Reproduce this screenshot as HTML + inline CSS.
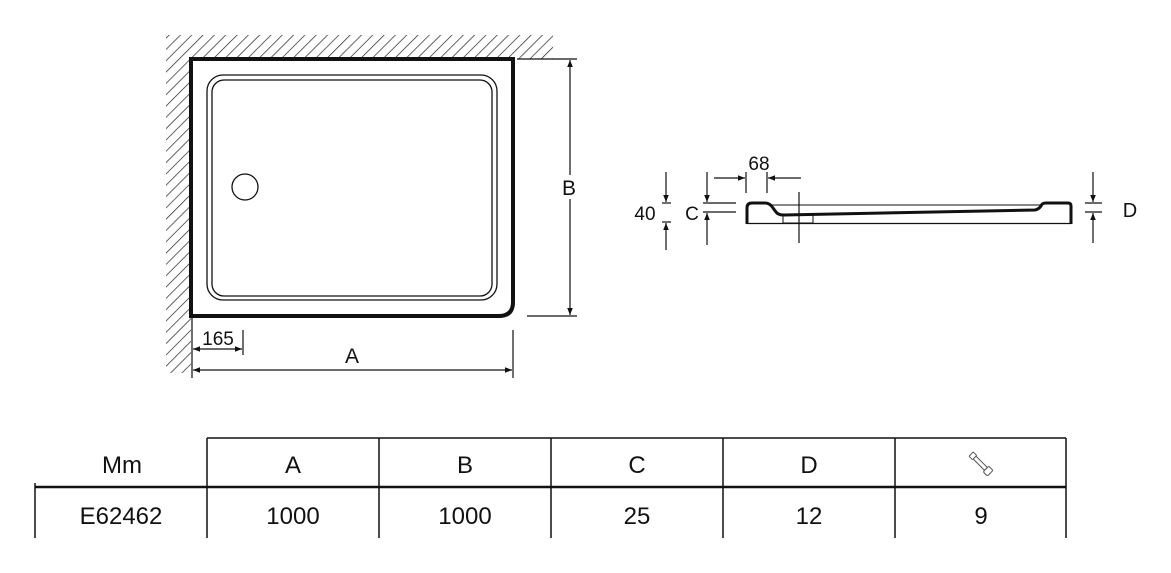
<!DOCTYPE html>
<html><head><meta charset="utf-8"><style>
html,body{margin:0;padding:0;background:#fff;}
svg{display:block;}
text{font-family:"Liberation Sans",sans-serif;fill:#111;}
</style></head><body>
<svg width="1171" height="573" viewBox="0 0 1171 573" xmlns="http://www.w3.org/2000/svg">
<defs>
<pattern id="h" width="8" height="8" patternUnits="userSpaceOnUse" patternTransform="rotate(45)">
<line x1="0" y1="0" x2="0" y2="8" stroke="#222" stroke-width="1.4"/>
</pattern>
<marker id="ar" viewBox="0 0 10 10" refX="10" refY="5" markerWidth="14" markerHeight="7" orient="auto-start-reverse" markerUnits="userSpaceOnUse">
<path d="M0,1 L10,5 L0,9 z" fill="#111"/>
</marker>
</defs>
<rect x="166" y="35" width="25" height="338" fill="url(#h)"/>
<rect x="191" y="35" width="362" height="24" fill="url(#h)"/>
<path d="M191,59 L513,59 L513,302 Q513,316 499,316 L191,316 Z" fill="#fff" stroke="#111" stroke-width="4"/>
<rect x="207" y="75" width="290" height="225" rx="16" fill="none" stroke="#111" stroke-width="1.3"/>
<rect x="212" y="80" width="280" height="216" rx="12" fill="none" stroke="#111" stroke-width="1.3"/>
<circle cx="245" cy="187" r="13" fill="none" stroke="#111" stroke-width="1.3"/>
<line x1="517" y1="59" x2="577" y2="59" stroke="#111" stroke-width="1.2"/>
<line x1="527" y1="316" x2="577" y2="316" stroke="#111" stroke-width="1.2"/>
<line x1="570" y1="60" x2="570" y2="315" stroke="#111" stroke-width="1.2" marker-start="url(#ar)" marker-end="url(#ar)"/>
<rect x="558" y="175" width="22" height="24" fill="#fff"/>
<text x="569" y="195" font-size="21" text-anchor="middle">B</text>
<line x1="192" y1="316" x2="192" y2="378" stroke="#111" stroke-width="1.2"/>
<line x1="513" y1="330" x2="513" y2="378" stroke="#111" stroke-width="1.2"/>
<line x1="193" y1="370" x2="512" y2="370" stroke="#111" stroke-width="1.2" marker-start="url(#ar)" marker-end="url(#ar)"/>
<text x="352" y="363" font-size="21" text-anchor="middle">A</text>
<line x1="243" y1="330" x2="243" y2="355" stroke="#111" stroke-width="1.2"/>
<line x1="193" y1="349" x2="242" y2="349" stroke="#111" stroke-width="1.2" marker-start="url(#ar)" marker-end="url(#ar)"/>
<text x="218" y="345" font-size="19" text-anchor="middle">165</text>
<path d="M747,224 L747,208 Q747,203 752,203 L765,203 Q770,203 773,208 L776,212 Q778,215 784,215 L1035,210 Q1039,209 1041,206 Q1042,203 1046,203 L1068,203 Q1071,203 1071,206 L1071,224" fill="none" stroke="#111" stroke-width="3"/>
<line x1="770" y1="205" x2="1042" y2="205" stroke="#111" stroke-width="1"/>
<line x1="747" y1="223.5" x2="1071" y2="223.5" stroke="#111" stroke-width="1.2"/>
<rect x="783" y="215" width="30" height="8" fill="none" stroke="#111" stroke-width="1"/>
<line x1="799" y1="192" x2="799" y2="243" stroke="#111" stroke-width="1.2"/>
<line x1="746" y1="172" x2="746" y2="193" stroke="#111" stroke-width="1.2"/>
<line x1="767" y1="172" x2="767" y2="193" stroke="#111" stroke-width="1.2"/>
<line x1="714" y1="178" x2="745" y2="178" stroke="#111" stroke-width="1.2" marker-end="url(#ar)"/>
<line x1="801" y1="178" x2="768" y2="178" stroke="#111" stroke-width="1.2" marker-end="url(#ar)"/>
<text x="759" y="170" font-size="19" text-anchor="middle">68</text>
<line x1="666" y1="172" x2="666" y2="202" stroke="#111" stroke-width="1.2" marker-end="url(#ar)"/>
<line x1="666" y1="250" x2="666" y2="223" stroke="#111" stroke-width="1.2" marker-end="url(#ar)"/>
<line x1="662" y1="203" x2="671" y2="203" stroke="#111" stroke-width="1.2"/>
<line x1="662" y1="222" x2="671" y2="222" stroke="#111" stroke-width="1.2"/>
<text x="645" y="220" font-size="19" text-anchor="middle">40</text>
<line x1="707" y1="172" x2="707" y2="202" stroke="#111" stroke-width="1.2" marker-end="url(#ar)"/>
<line x1="707" y1="245" x2="707" y2="213" stroke="#111" stroke-width="1.2" marker-end="url(#ar)"/>
<line x1="703" y1="203" x2="736" y2="203" stroke="#111" stroke-width="1.2"/>
<line x1="703" y1="212" x2="736" y2="212" stroke="#111" stroke-width="1.2"/>
<text x="692" y="220" font-size="19" text-anchor="middle">C</text>
<line x1="1093" y1="172" x2="1093" y2="202" stroke="#111" stroke-width="1.2" marker-end="url(#ar)"/>
<line x1="1093" y1="243" x2="1093" y2="213" stroke="#111" stroke-width="1.2" marker-end="url(#ar)"/>
<line x1="1085" y1="203" x2="1102" y2="203" stroke="#111" stroke-width="1.2"/>
<line x1="1085" y1="212" x2="1102" y2="212" stroke="#111" stroke-width="1.2"/>
<text x="1130" y="217" font-size="20" text-anchor="middle">D</text>
<line x1="207" y1="438" x2="1066" y2="438" stroke="#111" stroke-width="1.5"/>
<line x1="35" y1="487" x2="1066" y2="487" stroke="#111" stroke-width="2.5"/>
<line x1="35" y1="483" x2="35" y2="538" stroke="#111" stroke-width="1.5"/>
<g stroke="#111" stroke-width="1.5">
<line x1="207" y1="438" x2="207" y2="538"/>
<line x1="379" y1="438" x2="379" y2="538"/>
<line x1="551" y1="438" x2="551" y2="538"/>
<line x1="723" y1="438" x2="723" y2="538"/>
<line x1="895" y1="438" x2="895" y2="538"/>
<line x1="1066" y1="438" x2="1066" y2="538"/>
</g>
<g font-size="24" text-anchor="middle">
<text x="122" y="473">Mm</text>
<text x="293" y="473">A</text>
<text x="465" y="473">B</text>
<text x="637" y="473">C</text>
<text x="809" y="473">D</text>
<text x="121" y="524">E62462</text>
<text x="293" y="524">1000</text>
<text x="465" y="524">1000</text>
<text x="637" y="524">25</text>
<text x="809" y="524">12</text>
<text x="981" y="524">9</text>
</g>
<g transform="translate(981,464) rotate(45)" fill="#fff" stroke="#555" stroke-width="1">
<rect x="-14" y="-3" width="5" height="6" rx="1"/>
<rect x="-9" y="-2" width="16" height="4"/>
<rect x="7" y="-4" width="6" height="8" rx="1.5"/>
</g>
</svg>
</body></html>
